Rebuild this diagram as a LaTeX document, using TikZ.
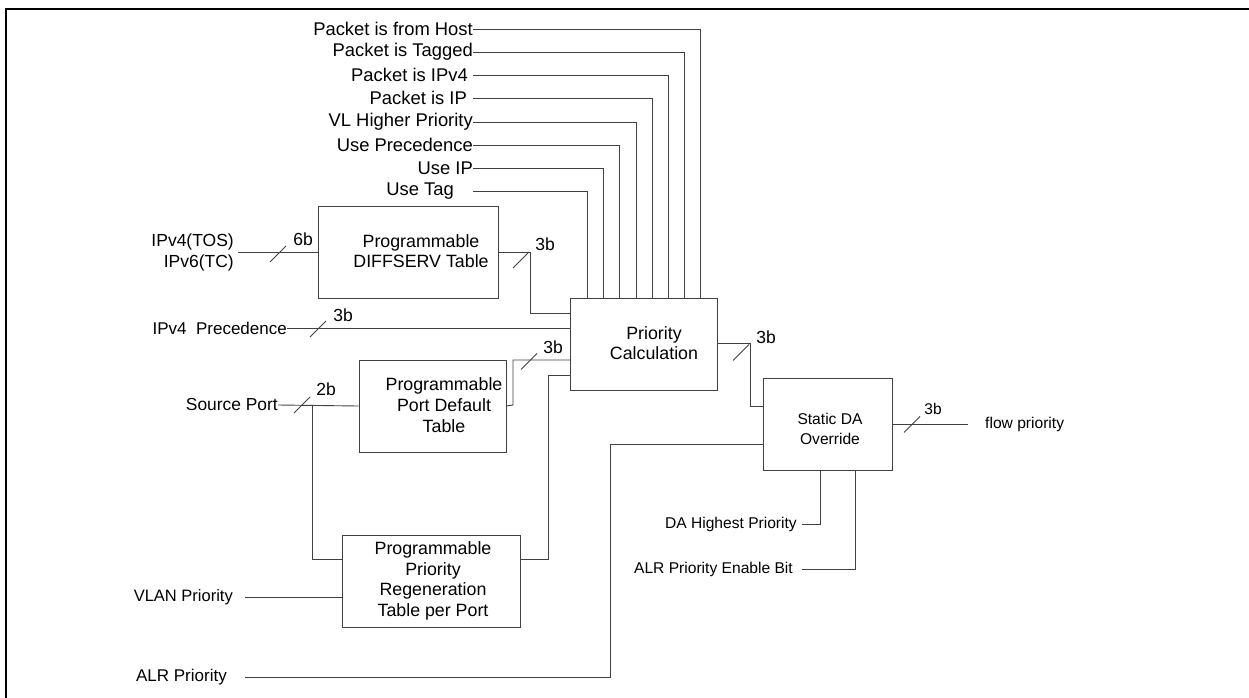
\documentclass[tikz,border=0pt]{standalone}
\usepackage{fontspec}
\setmainfont{Liberation Sans}
\begin{document}
\begin{tikzpicture}[x=1pt,y=-1pt,
  wire/.style={draw=black!75, line width=0.9pt},
  box/.style={draw=black!75, line width=0.9pt, rectangle, inner sep=0pt},
  txt/.style={inner sep=0pt, text=black, align=center},
  fbig/.style={font=\fontsize{18.4}{22}\selectfont},
  fmid/.style={font=\fontsize{17.8}{20.7}\selectfont},
  fsm/.style={font=\fontsize{15.6}{20.7}\selectfont},
  bits/.style={inner sep=0pt, font=\fontsize{17.5}{20}\selectfont},
]
\useasboundingbox (0,0) rectangle (1249,698);
% frame
\draw[line width=2pt] (6,698) -- (6,9.3) -- (1249,9.3);

% boxes
\node[box, minimum width=180pt, minimum height=92pt] (diff) at (408,252) {};
\node[txt, fmid] (difft) at (421,251) {Programmable\\DIFFSERV Table};
\node[box, minimum width=147pt, minimum height=92pt] (pc) at (643.5,344) {};
\node[txt, fmid] (pct) at (654,343) {Priority\\Calculation};
\node[box, minimum width=147pt, minimum height=92pt] (pdt) at (432.5,406) {};
\node[txt, fmid] (pdtt) at (444,405) {Programmable\\Port Default\\Table};
\node[box, minimum width=178pt, minimum height=92pt] (reg) at (431,581) {};
\node[txt, fmid] (regt) at (433,581) {Programmable\\Priority\\Regeneration\\Table per Port};
\node[box, minimum width=129pt, minimum height=92pt] (sda) at (827.5,424) {};
\node[txt, fsm] (sdat) at (830,429) {Static DA\\Override};

% top control inputs
\foreach \t/\yy/\xx [count=\i] in {
  {Packet is from Host}/29/700,
  {Packet is Tagged}/52/684,
  {Packet is IPv4\hspace{5pt}}/75/668,
  {Packet is IP\hspace{6pt}}/98/652,
  {VL Higher Priority}/122/636,
  {Use Precedence}/145/619,
  {Use IP}/168/603,
  {Use Tag\hspace{19pt}}/191/587}{
  \node[txt, fbig, anchor=east] (t\i) at (473,\yy) {\t};
  \coordinate (p\i) at (\xx,298);
  \draw[wire] (t\i.east) -| (p\i);
}

% IPv4(TOS) / IPv6(TC)
\node[txt, align=right, anchor=east, inner xsep=4pt, font=\fontsize{17.5}{21}\selectfont] (tos) at (238,252) {IPv4(TOS)\\IPv6(TC)};
\draw[wire] (tos.east) -- (diff.west);
\draw[wire] (278,254) +(-8,8) -- +(8,-8);
\node[bits] (b6) at (303,239) {6b};

% DIFFSERV -> PC
\coordinate (c1) at (530,252);
\coordinate (c1b) at (570,313);
\draw[wire] (diff.east) -- (c1) |- (c1b);
\draw[wire] (521,260) +(-8,8) -- +(8,-8);
\node[bits] (b3a) at (545,244) {3b};

% IPv4 Precedence
\node[txt, anchor=east, font=\fontsize{17}{20}\selectfont] (prec) at (287,328) {IPv4\ \ Precedence};
\coordinate (c2) at (570,328);
\draw[wire] (prec.east) -- (c2);
\draw[wire] (318,329) +(-8,8) -- +(8,-8);
\node[bits] (b3b) at (343,315) {3b};

% Source Port
\node[txt, anchor=east, font=\fontsize{17.4}{20}\selectfont] (sp) at (278,405) {Source Port};
\draw[wire] (sp.east) -- (pdt.west);
\draw[wire] (302,405) +(-8,8) -- +(8,-8);
\node[bits] (b2) at (326,389) {2b};
\coordinate (br) at (312,405);
\coordinate (c3) at (342,559);
\draw[wire] (br) |- (c3);

% Port default -> PC
\coordinate (c4) at (513,405);
\coordinate (c4b) at (570,360);
\draw[wire] (pdt.east) -- (c4) |- (c4b);
\draw[wire] (529,361.5) +(-8,8) -- +(8,-8);
\node[bits] (b3c) at (553,347) {3b};

% Regeneration -> PC
\coordinate (c5) at (520,559);
\coordinate (c5b) at (548,559);
\coordinate (c5c) at (570,375);
\draw[wire] (c5) -- (c5b) |- (c5c);

% VLAN Priority
\node[txt, anchor=east, font=\fontsize{16.5}{20}\selectfont] (vlan) at (233,597) {VLAN Priority};
\coordinate (c6) at (245,597);
\coordinate (c6b) at (342,597);
\draw[wire] (c6) -- (c6b);

% ALR Priority
\node[txt, anchor=east, font=\fontsize{17}{20}\selectfont] (alr) at (227,677) {ALR Priority};
\coordinate (c7) at (245,677);
\coordinate (c7b) at (610,677);
\coordinate (c7c) at (763,444);
\draw[wire] (c7) -- (c7b) |- (c7c);

% PC -> SDA
\coordinate (c8) at (717,343);
\coordinate (c8b) at (750,343);
\coordinate (c8c) at (763,406);
\draw[wire] (c8) -- (c8b) |- (c8c);
\draw[wire] (741,352.5) +(-8,8) -- +(8,-8);
\node[bits] (b3d) at (766,337) {3b};

% SDA -> flow priority
\coordinate (c9) at (968,424);
\draw[wire] (sda.east) -- (c9);
\draw[wire] (912,424.5) +(-8,8) -- +(8,-8);
\node[bits, font=\fontsize{15.5}{18}\selectfont] (b3e) at (933,409) {3b};
\node[txt, fsm, anchor=west] (flow) at (985,424) {flow priority};

% DA Highest Priority / ALR Enable
\node[txt, fsm, anchor=east] (dah) at (797,524) {DA Highest Priority};
\coordinate (d1) at (820,470);
\coordinate (d1b) at (802,524);
\draw[wire] (d1) |- (d1b);
\node[txt, fsm, anchor=east] (alre) at (793,569) {ALR Priority Enable Bit};
\coordinate (d2) at (855,470);
\coordinate (d2b) at (802,569);
\draw[wire] (d2) |- (d2b);
\end{tikzpicture}
\end{document}
